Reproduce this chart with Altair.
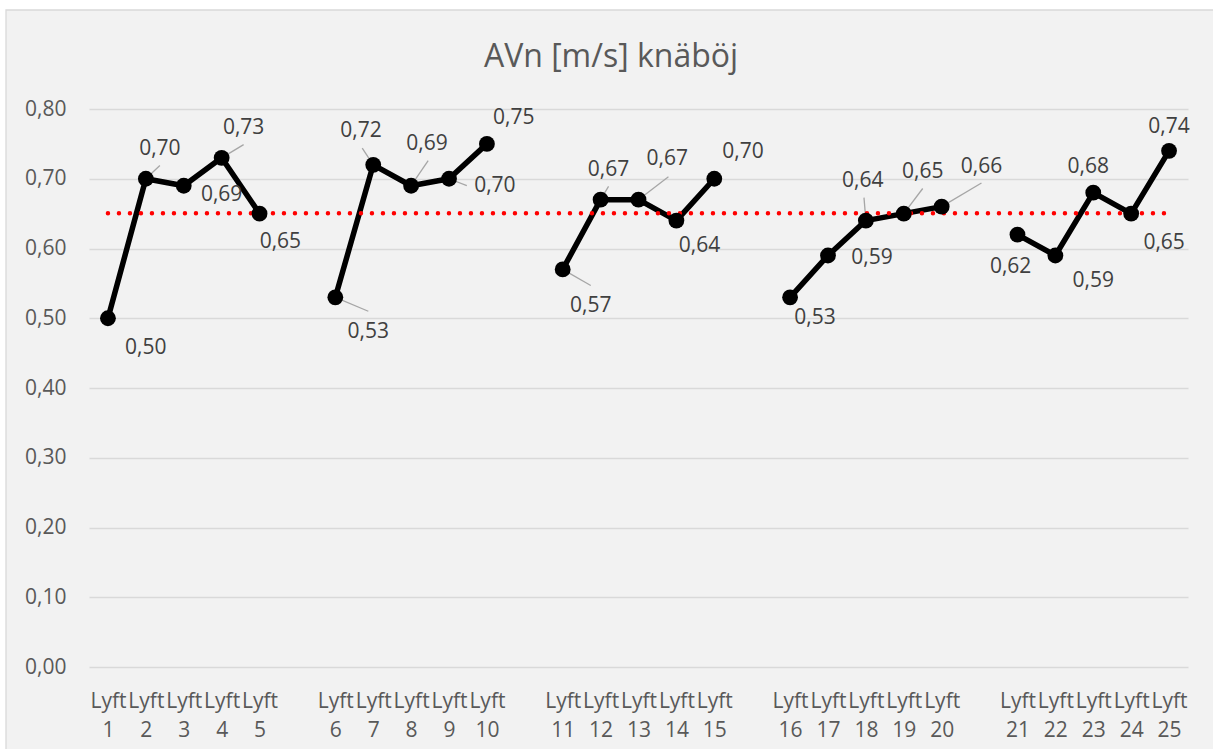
import altair as alt
import pandas as pd

TITLE = "AVn [m/s] knäböj"
LIFTS = list(range(1, 26))
VALUES = [0.50, 0.70, 0.69, 0.73, 0.65,
          0.53, 0.72, 0.69, 0.70, 0.75,
          0.57, 0.67, 0.67, 0.64, 0.70,
          0.53, 0.59, 0.64, 0.65, 0.66,
          0.62, 0.59, 0.68, 0.65, 0.74]
GROUP_SIZE = 5
Y_TICKS = [0.0, 0.1, 0.2, 0.3, 0.4, 0.5, 0.6, 0.7, 0.8]

# where each value label sits relative to its point (x in category slots, y in m/s)
LABEL_DX = [1.00, 0.37, 1.00, 0.58, 0.55,
            0.87, -0.32, 0.42, 1.21, 0.71,
            0.74, 0.21, 0.76, 0.61, 0.76,
            0.66, 1.16, -0.08, 0.50, 1.05,
            -0.18, 1.00, -0.13, 0.87, 0.00]
LABEL_DY = [-0.043, 0.043, -0.014, 0.043, -0.040,
            -0.050, 0.049, 0.060, -0.011, 0.037,
            -0.052, 0.043, 0.059, -0.037, 0.039,
            -0.029, -0.003, 0.057, 0.060, 0.057,
            -0.046, -0.036, 0.037, -0.042, 0.034]
# leader line ends for labels that were pulled away from their point
LEADER_DX = [None, 0.37, None, 0.58, None,
             0.87, -0.29, 0.45, 0.47, None,
             0.74, 0.21, 0.79, None, None,
             None, None, -0.05, 0.50, 1.05,
             None, None, None, None, None]
LEADER_DY = [None, 0.019, None, 0.019, None,
             -0.020, 0.024, 0.036, -0.010, None,
             -0.023, 0.019, 0.033, None, None,
             None, None, 0.033, 0.036, 0.034,
             None, None, None, None, None]

FONT = "Open Sans"
AXIS_GREY = "#595959"
LABEL_GREY = "#404040"
GRID_GREY = "#d9d9d9"

# one empty slot between groups of five lifts
slots = [n + (n - 1) // GROUP_SIZE for n in LIFTS]
n_slots = slots[-1]

df = pd.DataFrame({
    "lift": LIFTS,
    "slot": slots,
    "value": VALUES,
    "group": [(n - 1) // GROUP_SIZE for n in LIFTS],
    "label": [f"{v:.2f}".replace(".", ",") for v in VALUES],
})
df["lx"] = df["slot"] + pd.Series(LABEL_DX)
df["ly"] = df["value"] + pd.Series(LABEL_DY)
lead = df.copy()
lead["ex"] = lead["slot"] + pd.Series(LEADER_DX, dtype="float")
lead["ey"] = lead["value"] + pd.Series(LEADER_DY, dtype="float")
lead = lead.dropna(subset=["ex", "ey"])

mean_value = sum(VALUES) / len(VALUES)
avg = pd.DataFrame({"slot": [1, n_slots], "value": [mean_value, mean_value]})

x_scale = alt.Scale(domain=[0.5, n_slots + 0.5], nice=False, zero=False)
y_scale = alt.Scale(domain=[0, 0.8], nice=False)

x_axis = alt.Axis(
    values=slots, title=None, grid=False, ticks=False, tickSize=0, domain=False,
    labelExpr="['Lyft', toString(datum.value - floor((datum.value - 1) / 6))]",
    labelFont=FONT, labelFontSize=21, labelColor=AXIS_GREY, labelLineHeight=29,
    labelPadding=23, labelOverlap=False, labelFlush=False,
)
y_axis = alt.Axis(
    values=Y_TICKS, title=None, grid=True, gridColor=GRID_GREY, gridWidth=1.3,
    ticks=False, tickSize=0, domain=False, labelPadding=23,
    labelExpr="replace(format(datum.value, '.2f'), '.', ',')",
    labelFont=FONT, labelFontSize=21, labelColor=AXIS_GREY,
)


def xq(field):
    return alt.X(f"{field}:Q", scale=x_scale, axis=x_axis)


def yq(field):
    return alt.Y(f"{field}:Q", scale=y_scale, axis=y_axis)


one_row = pd.DataFrame({"title": [TITLE]})
# white margin and thin border around the grey chart area
margin_left = alt.Chart(one_row).mark_rect(fill="white", strokeWidth=0).encode(
    x=alt.value(-89), x2=alt.value(-83), y=alt.value(-109), y2=alt.value(660))
margin_top = alt.Chart(one_row).mark_rect(fill="white", strokeWidth=0).encode(
    x=alt.value(-89), x2=alt.value(1140), y=alt.value(-109), y2=alt.value(-99))
border = alt.Chart(one_row).mark_rect(
    fill="transparent", stroke=GRID_GREY, strokeWidth=1.3).encode(
    x=alt.value(-83), x2=alt.value(1140), y=alt.value(-99), y2=alt.value(660))

# chart title, centred over the grey chart area
title = alt.Chart(one_row).mark_text(
    font=FONT, fontSize=32, color=AXIS_GREY, align="center", baseline="alphabetic").encode(
    x=alt.value(522), y=alt.value(-42), text="title:N")

leaders = alt.Chart(lead).mark_rule(color="#a6a6a6", strokeWidth=1.3).encode(
    x=xq("slot"), y=yq("value"), x2="ex:Q", y2="ey:Q")

lines = alt.Chart(df).mark_line(
    color="black", strokeWidth=5.5, strokeJoin="round", strokeCap="round").encode(
    x=xq("slot"), y=yq("value"), detail="group:N")

avg_line = alt.Chart(avg).mark_line(
    color="#ff0000", strokeWidth=4.5, strokeDash=[0, 11], strokeCap="round").encode(
    x=xq("slot"), y=yq("value"))

points = alt.Chart(df).mark_point(
    filled=True, color="black", size=250, opacity=1, shape="circle").encode(
    x=xq("slot"), y=yq("value"))

labels = alt.Chart(df).mark_text(
    font=FONT, fontSize=21, color=LABEL_GREY, align="center", baseline="middle").encode(
    x=xq("lx"), y=yq("ly"), text="label:N")

chart = alt.layer(
    margin_left, margin_top, border, title, leaders, lines, avg_line, points, labels
).properties(
    width=1099, height=558,
    padding={"left": 89, "top": 109, "right": 25, "bottom": 82},
    autosize="none",
).configure(background="#f2f2f2").configure_view(stroke=None)

chart.save("out.html", embed_options={"renderer": "svg", "actions": False})
